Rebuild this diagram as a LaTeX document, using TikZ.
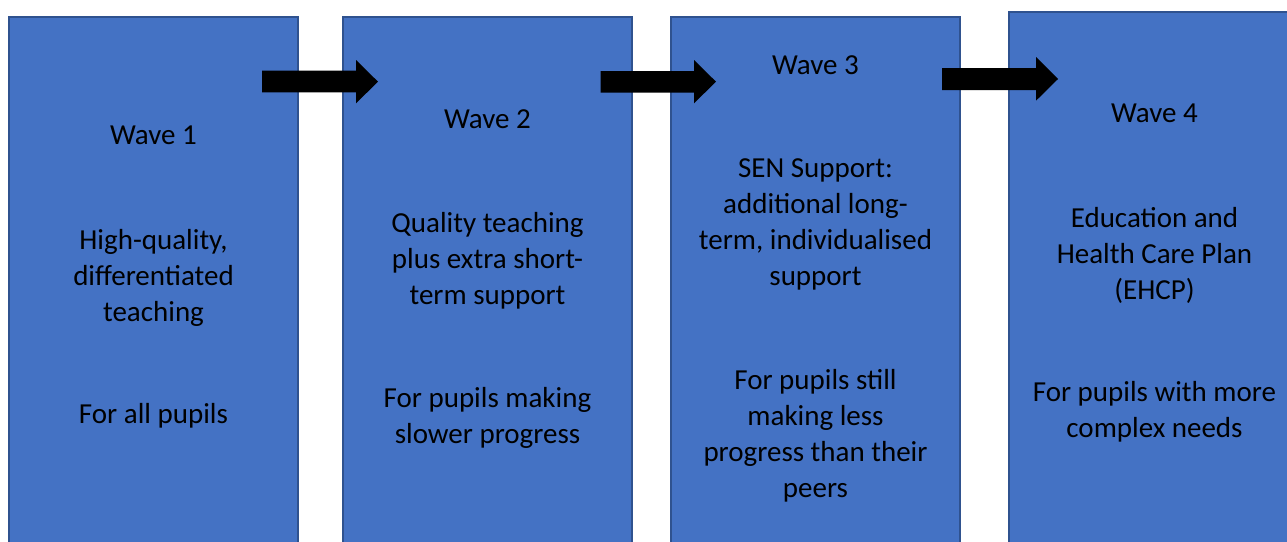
\documentclass[tikz,border=0pt]{standalone}
\usepackage{fontspec}
\setmainfont{Carlito}
\definecolor{boxblue}{HTML}{4472C4}
\definecolor{boxedge}{HTML}{2F528F}
\begin{document}
\begin{tikzpicture}[x=1pt,y=-1pt,
  wavebox/.style={fill=boxblue,draw=boxedge,line width=1.5pt},
  blockarrow/.style={fill=black,draw=none},
  txt/.style={anchor=north,inner sep=0pt,align=center,text=black,font=\fontsize{29}{36}\selectfont}]
\useasboundingbox (0,0) rectangle (1287,541);
\clip (0,0) rectangle (1287,541);
\fill[white] (0,0) rectangle (1287,541);
% boxes
\draw[wavebox] (9,17) rectangle (298,560);
\draw[wavebox] (343,17) rectangle (632,560);
\draw[wavebox] (671,17) rectangle (960,560);
\draw[wavebox] (1009,12) rectangle (1310,560);
% arrows
\fill[blockarrow] (262,70.7) -- (356,70.7) -- (356,60) -- (378,81.7) -- (356,103.3) -- (356,92.3) -- (262,92.3) -- cycle;
\fill[blockarrow] (600.7,71) -- (694,71) -- (694,60) -- (716,81.7) -- (694,103.3) -- (694,92.7) -- (600.7,92.7) -- cycle;
\fill[blockarrow] (942,68) -- (1036,68) -- (1036,57) -- (1058,79) -- (1036,100.7) -- (1036,90) -- (942,90) -- cycle;
% texts
\node[txt] (t1) at (153.5,120) {\rule{0pt}{24pt}Wave 1\\[69pt]High-quality,\\differentiated\\teaching\\[66pt]For all pupils};
\node[txt] (t2) at (487.5,104) {\rule{0pt}{24pt}Wave 2\\[68.5pt]Quality teaching\\plus extra short-\\term support\\[66.5pt]For pupils making\\slower progress};
\node[txt] (t3) at (815.5,50) {\rule{0pt}{24pt}Wave 3\\[67.5pt]SEN Support:\\additional long-\\term, individualised\\support\\[67.5pt]For pupils still\\making less\\progress than their\\peers};
\node[txt] (t4) at (1154.5,98) {\rule{0pt}{24pt}Wave 4\\[69pt]Education and\\Health Care Plan\\(EHCP)\\[66pt]For pupils with more\\complex needs};
\end{tikzpicture}
\end{document}
